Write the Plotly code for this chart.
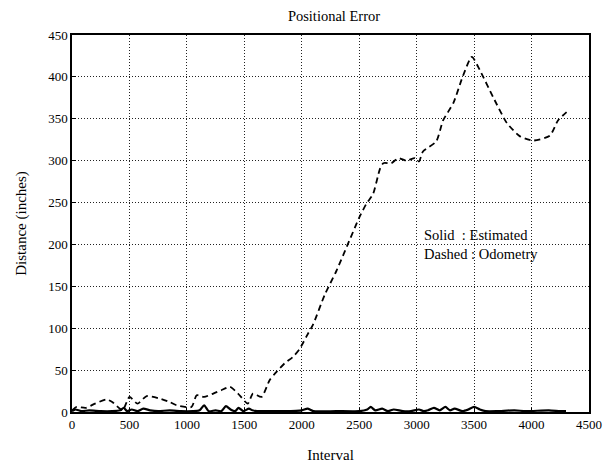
import plotly.graph_objects as go

# Dashed: Odometry error
odo_x = [0, 40, 120, 200, 300, 350, 440, 500, 570, 650, 765, 850, 910, 1040, 1085, 1150, 1230,
         1300, 1375, 1445, 1530, 1575, 1650, 1720, 1780, 1850, 1925, 1980, 2040, 2100, 2200, 2300,
         2400, 2500, 2560, 2620, 2680, 2710, 2780, 2840, 2910, 2985, 3020, 3055, 3170, 3230, 3320,
         3400, 3480, 3550, 3665, 3785, 3900, 4015, 4160, 4230, 4305]
odo_y = [2, 6, 5, 10, 15, 12, 2, 18, 10, 19, 16, 12, 8, 6, 20, 18, 22,
         26, 30, 22, 10, 22, 18, 38, 48, 58, 66, 75, 90, 105, 140, 168,
         200, 232, 248, 260, 290, 297, 297, 303, 300, 303, 299, 311, 323, 348, 369,
         400, 424, 408, 376, 345, 329, 324, 330, 348, 358]

# Solid: Estimated error
est_x = [0, 30, 80, 150, 250, 350, 420, 450, 480, 520, 570, 620, 680, 750, 850, 950, 1050, 1110,
         1150, 1190, 1250, 1300, 1340, 1380, 1420, 1450, 1490, 1540, 1570, 1610, 1700, 1850, 2000,
         2050, 2100, 2300, 2500, 2570, 2600, 2640, 2700, 2750, 2800, 2880, 2950, 3020, 3060, 3100,
         3150, 3200, 3250, 3290, 3330, 3400, 3450, 3500, 3550, 3600, 3700, 3850, 3950, 4150, 4250, 4300]
est_y = [1, 3, 1, 2, 1, 1, 2, 5, 1, 3, 1, 4, 2, 1, 2, 1, 1, 2,
         8, 1, 2, 1, 7, 3, 1, 5, 1, 4, 2, 1, 1, 1, 2,
         4, 1, 1, 1, 3, 6, 2, 4, 1, 3, 1, 1, 3, 1, 2,
         5, 2, 6, 2, 4, 1, 3, 6, 3, 1, 1, 2, 1, 2, 1, 1]

x_ticks = [0, 500, 1000, 1500, 2000, 2500, 3000, 3500, 4000, 4500]
y_ticks = [0, 50, 100, 150, 200, 250, 300, 350, 400, 450]

font = "Liberation Serif"

fig = go.Figure()
fig.add_trace(go.Scatter(x=est_x, y=est_y, mode="lines",
                         line=dict(color="black", width=2.2, shape="spline", smoothing=0.6),
                         showlegend=False))
fig.add_trace(go.Scatter(x=odo_x, y=odo_y, mode="lines",
                         line=dict(color="black", width=1.8, dash="6px,4px", shape="spline", smoothing=0.6),
                         showlegend=False))

fig.add_annotation(x=3046, y=200, xref="x", yref="y", xanchor="left", yanchor="middle",
                   text="Solid  : Estimated<br>Dashed : Odometry", showarrow=False, align="left",
                   font=dict(family=font, size=14.5, color="black"))

axis_common = dict(showline=True, linecolor="black", linewidth=1.5, mirror=True,
                   ticks="inside", ticklen=4, tickcolor="black",
                   showgrid=True, gridcolor="#222222", griddash="1px,2px", gridwidth=1,
                   zeroline=False, automargin=False,
                   tickfont=dict(family=font, size=13, color="black"))

fig.update_layout(
    width=606, height=466,
    margin=dict(l=72, r=17, t=35, b=54),
    paper_bgcolor="white", plot_bgcolor="white",
    title=dict(text="Positional Error", x=334 / 606, xanchor="center",
               y=1 - 16 / 466, yanchor="middle",
               font=dict(family=font, size=14.5, color="black")),
    xaxis=dict(range=[0, 4500], tickvals=x_ticks, ticktext=[str(v) for v in x_ticks],
               title=dict(text="Interval", font=dict(family=font, size=15, color="black"), standoff=18),
               **axis_common),
    yaxis=dict(range=[0, 450], tickvals=y_ticks, ticktext=[str(v) for v in y_ticks],
               title=dict(text="Distance (inches)", font=dict(family=font, size=15, color="black"), standoff=18),
               **axis_common),
)

fig.write_html("out.html")
